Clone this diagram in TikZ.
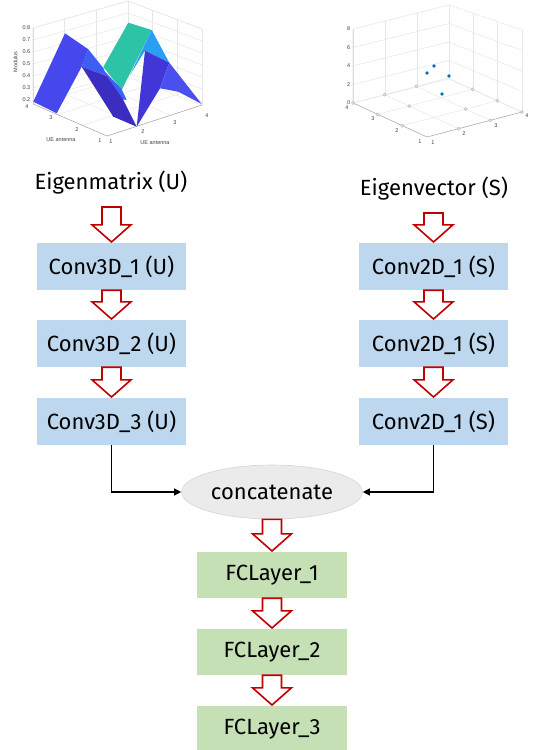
\documentclass[tikz,border=0pt]{standalone}
\usepackage{fontspec}
\setmainfont{Fira Sans}
\newfontfamily\plotfont{Liberation Sans}
\usetikzlibrary{shapes.geometric,arrows.meta,calc}

\definecolor{convblue}{HTML}{BDD7EE}
\definecolor{fcgreen}{HTML}{C5E0B4}
\definecolor{arrowred}{HTML}{C00000}
\definecolor{catfill}{HTML}{EBEBEB}
\definecolor{catedge}{HTML}{D6D6D6}
\definecolor{gridc}{HTML}{E6E6E6}
\definecolor{axisc}{HTML}{A0A0A0}
\definecolor{tickc}{HTML}{404040}
\definecolor{faceA}{HTML}{4747EE}
\definecolor{faceB}{HTML}{3D5EF2}
\definecolor{faceC}{HTML}{3A2DBF}
\definecolor{faceD}{HTML}{3B62F4}
\definecolor{faceE}{HTML}{2CC3A6}
\definecolor{faceF}{HTML}{289FF2}
\definecolor{faceG}{HTML}{4336D9}
\definecolor{faceH}{HTML}{4A4FF0}
\definecolor{dotblue}{HTML}{0072BD}

\tikzset{
  flowfont/.style={font=\fontsize{22}{26}\selectfont},
  convbox/.style={flowfont, fill=convblue, minimum width=149pt, minimum height=47pt, inner sep=0pt},
  fcbox/.style={flowfont, fill=fcgreen, minimum width=150pt, minimum height=46pt, inner sep=0pt},
  title/.style={flowfont, inner sep=0pt},
  catnode/.style={flowfont, ellipse, fill=catfill, draw=catedge, line width=0.6pt, minimum width=181pt, minimum height=54pt, inner sep=0pt},
  link/.style={draw=black, line width=1.1pt, -{Triangle[length=7pt,width=7pt]}},
  fat/.style={draw=arrowred, line width=1.6pt, fill=white, line join=miter},
  ticklab/.style={inner sep=0pt, text=tickc, font=\plotfont\fontsize{5.5}{6}\selectfont},
  gridline/.style={draw=gridc, line width=0.5pt},
  axisline/.style={draw=axisc, line width=0.5pt},
  floordot/.style={draw=black!28, fill=black!6, line width=0.5pt},
}

% hollow down arrow from a coordinate/anchor #1 to the anchor #2 (tip)
\newcommand\fatdown[2]{%
  \draw[fat] let \p1=(#1), \p2=(#2) in
    (\x2-9.5pt,\y1) -- (\x2+9.5pt,\y1) -- (\x2+9.5pt,\y2+18pt) --
    (\x2+19.5pt,\y2+18pt) -- (\x2,\y2+0.8pt) -- (\x2-19.5pt,\y2+18pt) --
    (\x2-9.5pt,\y2+18pt) -- cycle;}

\begin{document}
\begin{tikzpicture}[x=1pt,y=-1pt]
\useasboundingbox (0,0) rectangle (536,750);

% ---------------- surface plot of |U| ----------------
\foreach \z in {28,40,52,64,76,88,100}
  \draw[gridline] (33,\z) -- (128,{\z-27}) -- (202,{\z+1});
\foreach \x/\yb/\yt in {64.7/94.7/18.7, 96.3/85.3/9.3}
  \draw[gridline] (\x,\yb) -- (\x,\yt);
\foreach \x/\yb/\yt in {152.7/86.3/10.3, 177.3/95.7/19.7}
  \draw[gridline] (\x,\yb) -- (\x,\yt);
\draw[gridline] (128,77) -- (128,1);
\draw[gridline] (202,105) -- (202,29);
\draw[gridline] (33,28) -- (128,1) -- (202,29);
\foreach \k in {1,2}{
  \draw[gridline] ({107-24.67*\k},{136-10.67*\k}) -- ({202-24.67*\k},{105-10.67*\k});
  \draw[gridline] ({107+31.67*\k},{136-10.33*\k}) -- ({33+31.67*\k},{104-10.33*\k});
}
\draw[gridline] (33,104) -- (128,77) -- (202,105);
\draw[axisline] (33,28) -- (33,104) -- (107,136) -- (202,105);

\fill[faceE] (103.3,67) -- (128.3,22.7) -- (151.7,30) -- (121.7,90) -- cycle;
\fill[faceF] (151.7,30) -- (169.3,62.7) -- (145,50.7) -- (130,75) -- cycle;
\fill[faceD] (101.7,68.3) -- (121.7,89.3) -- (126.7,100) -- (121.7,99.3) -- (106.7,76) -- cycle;
\fill[faceB] (88.3,49.3) -- (103.3,68) -- (106.7,76) -- (81.7,66.7) -- cycle;
\fill[faceC] (81.7,66.7) -- (106.7,76) -- (123.3,100) -- (136.7,126.7) -- (113.3,116.7) -- cycle;
\fill[faceA] (33.3,101.7) -- (65,33.3) -- (88.3,49.3) -- (81.7,66.7) -- (56.7,113.3) -- cycle;
\fill[faceG] (136.7,126.7) -- (145,50.7) -- (169.3,62.7) -- (160,88.3) -- cycle;
\fill[faceH] (169.3,62.7) -- (201.7,104) -- (178.3,91.7) -- (160,88.3) -- cycle;

\foreach \v/\y in {0.8/28,0.7/40,0.6/52,0.5/64,0.4/76,0.3/88,0.2/100}
  \node[ticklab, anchor=east] at (30.5,\y) {\v};
\node[ticklab, rotate=90] at (15.5,62) {Modulus};
\node[ticklab] at (27,107) {4};
\node[ticklab] at (51,118) {3};
\node[ticklab] at (77,130) {2};
\node[ticklab] at (100,141) {1};
\node[ticklab] at (61,140) {UE antenna};
\node[ticklab] at (111,142) {1};
\node[ticklab] at (143,132) {2};
\node[ticklab] at (175,123) {3};
\node[ticklab] at (207,116) {4};
\node[ticklab] at (155,143) {UE antenna};

% ---------------- eigenvalue scatter plot ----------------
\foreach \a/\b/\c in {29/5/30, 47.5/23.5/50.5, 66/42/71, 84.5/60.5/91.5, 103/79/112}
  \draw[gridline] (353,\a) -- (449,\b) -- (522,\c);
\draw[gridline] (385,95) -- (385,21);
\draw[gridline] (417,87) -- (417,13);
\draw[gridline] (473.3,90) -- (473.3,13.3);
\draw[gridline] (497.7,101) -- (497.7,21.7);
\draw[gridline] (449,79) -- (449,5);
\draw[gridline] (522,112) -- (522,30);
\foreach \k in {1,2,3}{
  \draw[gridline] ({427-24.67*\k},{137-11.33*\k}) -- ({427-24.67*\k+95},{137-11.33*\k-25});
  \draw[gridline] ({427+31.67*\k},{137-8.33*\k}) -- ({427+31.67*\k-74},{137-8.33*\k-34});
}
\draw[axisline] (353,29) -- (353,103) -- (427,137) -- (522,112);

\foreach \i/\j in {2/1,3/1,4/1,1/2,3/2,4/2,1/3,2/3,4/3,1/4,2/4,3/4}
  \draw[floordot] ({427-24.67*(\i-1)+31.67*(\j-1)},{137-11.33*(\i-1)-8.33*(\j-1)}) circle (1.5pt);
\foreach \x/\y in {427/73, 434/66, 442/94, 449/76}
  \fill[dotblue] (\x,\y) circle (1.8pt);

\foreach \v/\y in {8/29,6/47.5,4/66,2/84.5,0/103}
  \node[ticklab, anchor=east] at (350.5,\y) {\v};
\node[ticklab] at (347,108) {4};
\node[ticklab] at (373,119) {3};
\node[ticklab] at (397,131) {2};
\node[ticklab] at (420,142) {1};
\node[ticklab] at (433,143) {1};
\node[ticklab] at (464,134) {2};
\node[ticklab] at (496,126) {3};
\node[ticklab] at (527,116) {4};

% ---------------- network flow ----------------
\node[title, anchor=base] (eigU) at (111,189) {Eigenmatrix (U)};
\node[title, anchor=base] (eigS) at (434,195) {Eigenvector (S)};
\coordinate (eigUout) at (111,207);
\coordinate (eigSout) at (434,213);

\node[convbox] (u1) at (111.5,266.5) {Conv3D\_1 (U)};
\node[convbox] (u2) at (111.5,343.5) {Conv3D\_2 (U)};
\node[convbox] (u3) at (111.5,421.5) {Conv3D\_3 (U)};
\node[convbox] (s1) at (433.5,266.5) {Conv2D\_1 (S)};
\node[convbox] (s2) at (433.5,343.5) {Conv2D\_1 (S)};
\node[convbox] (s3) at (433.5,421.5) {Conv2D\_1 (S)};

\node[catnode] (cat) at (272,492) {concatenate};

\node[fcbox] (f1) at (272,575) {FCLayer\_1};
\node[fcbox] (f2) at (272,652) {FCLayer\_2};
\node[fcbox] (f3) at (272,729) {FCLayer\_3};

\fatdown{eigUout}{u1.north}
\fatdown{u1.south}{u2.north}
\fatdown{u2.south}{u3.north}
\fatdown{eigSout}{s1.north}
\fatdown{s1.south}{s2.north}
\fatdown{s2.south}{s3.north}
\fatdown{cat.south}{f1.north}
\fatdown{f1.south}{f2.north}
\fatdown{f2.south}{f3.north}

\draw[link] (u3.south) |- (cat.west);
\draw[link] (s3.south) |- (cat.east);
\end{tikzpicture}
\end{document}
